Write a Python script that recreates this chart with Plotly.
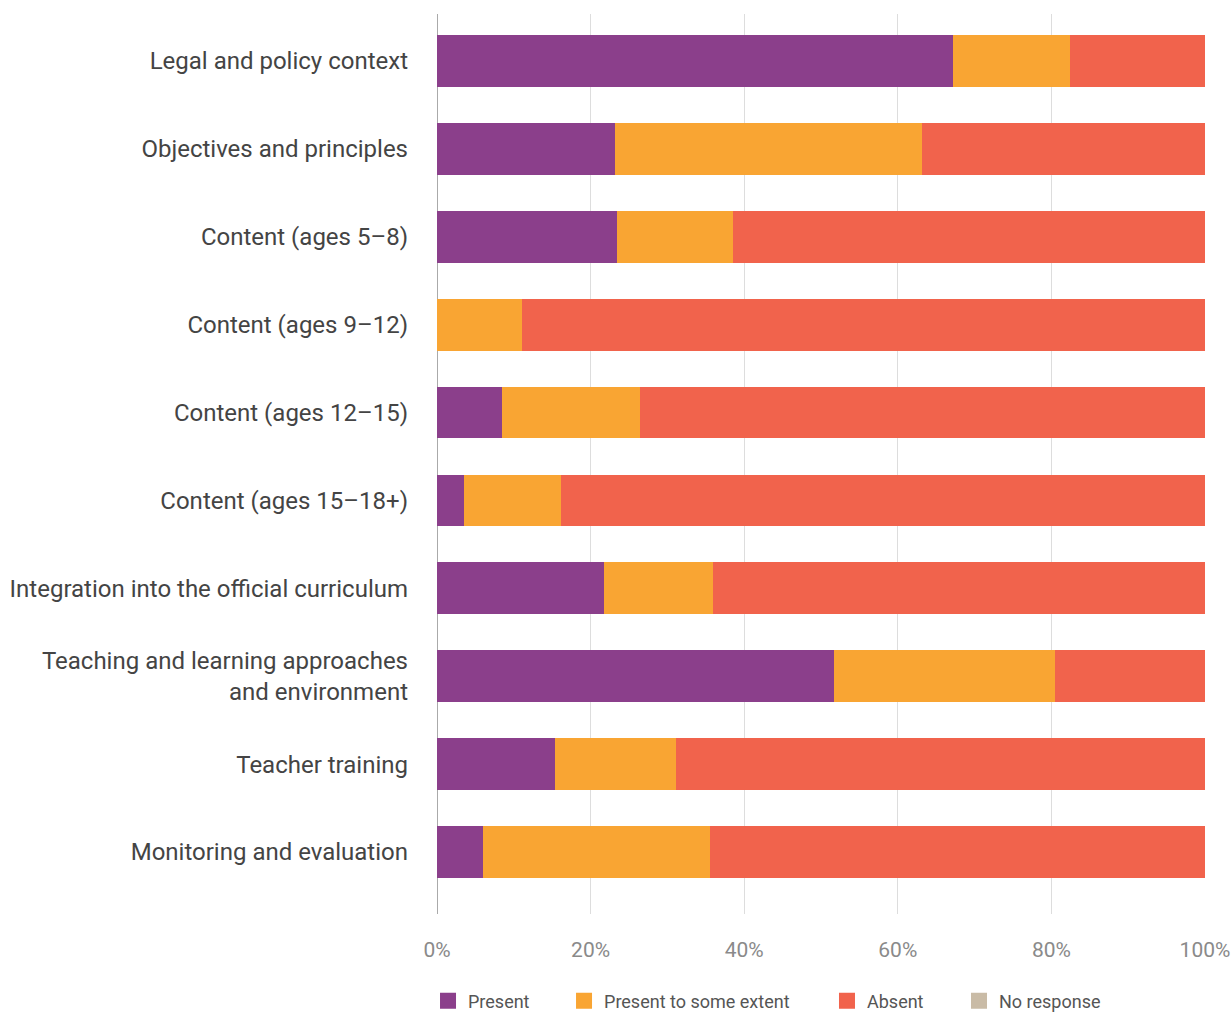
import plotly.graph_objects as go

categories = [
    "Legal and policy context",
    "Objectives and principles",
    "Content (ages 5–8)",
    "Content (ages 9–12)",
    "Content (ages 12–15)",
    "Content (ages 15–18+)",
    "Integration into the official curriculum",
    "Teaching and learning approaches<br>and environment",
    "Teacher training",
    "Monitoring and evaluation",
]
present = [67.2, 23.2, 23.4, 0.0, 8.5, 3.5, 21.7, 51.7, 15.4, 6.0]
some_extent = [15.2, 40.0, 15.1, 11.1, 17.9, 12.6, 14.3, 28.8, 15.7, 29.5]
absent = [17.6, 36.8, 61.5, 88.9, 73.6, 83.9, 64.0, 19.5, 68.9, 64.5]
no_response = [0, 0, 0, 0, 0, 0, 0, 0, 0, 0]
tick_vals = [0, 20, 40, 60, 80, 100]
tick_text = ["0%", "20%", "40%", "60%", "80%", "100%"]

series = [
    ("Present", present, "#8B3F8B"),
    ("Present to some extent", some_extent, "#F9A533"),
    ("Absent", absent, "#F1634C"),
    ("No response", no_response, "#C9BBA6"),
]
legend_ids = ["legend", "legend2", "legend3", "legend4"]
legend_x = [-0.0117, 0.1654, 0.5078, 0.6797]

fig = go.Figure()
for name, vals, color in series:
    fig.add_trace(go.Bar(
        y=categories, x=vals, name=name, orientation="h",
        marker=dict(color=color, line=dict(width=0)), width=0.59,
        showlegend=False,
    ))
# legend entries with square swatches, one legend box per entry
for (name, vals, color), lid in zip(series, legend_ids):
    fig.add_trace(go.Scatter(
        x=[None], y=[None], mode="markers", name=name, legend=lid,
        marker=dict(symbol="square", size=16, color=color),
        showlegend=True, hoverinfo="skip",
    ))

legend_common = dict(
    orientation="h", xanchor="left", y=-0.116, yanchor="bottom",
    font=dict(size=18, color="#555555"), itemwidth=30,
    bgcolor="rgba(0,0,0,0)",
)

fig.update_layout(
    width=1231, height=1030,
    margin=dict(l=437, r=26, t=14, b=115),
    plot_bgcolor="white", paper_bgcolor="white",
    barmode="stack",
    font=dict(family="Roboto", color="#444444"),
    xaxis=dict(
        range=[0, 100], tickvals=tick_vals, ticktext=tick_text,
        showgrid=True, gridcolor="#DDDDDD", gridwidth=1,
        zeroline=True, zerolinecolor="#AAAAAA", zerolinewidth=1,
        tickfont=dict(size=21, color="#8A8A8A"),
        ticklabelstandoff=21, ticklabeloverflow="allow",
        showline=False, fixedrange=True, automargin=False,
    ),
    yaxis=dict(
        categoryorder="array", categoryarray=categories,
        range=[9.705, -0.534],
        tickfont=dict(size=24, color="#444444"),
        ticklabelstandoff=28, showgrid=False, showline=False,
        automargin=False,
    ),
)
for lid, lx in zip(legend_ids, legend_x):
    fig.update_layout({lid: dict(legend_common, x=lx)})

fig.write_html(
    "out.html",
    config={"displayModeBar": False},
    post_script="document.body.style.margin='0px';",
)
